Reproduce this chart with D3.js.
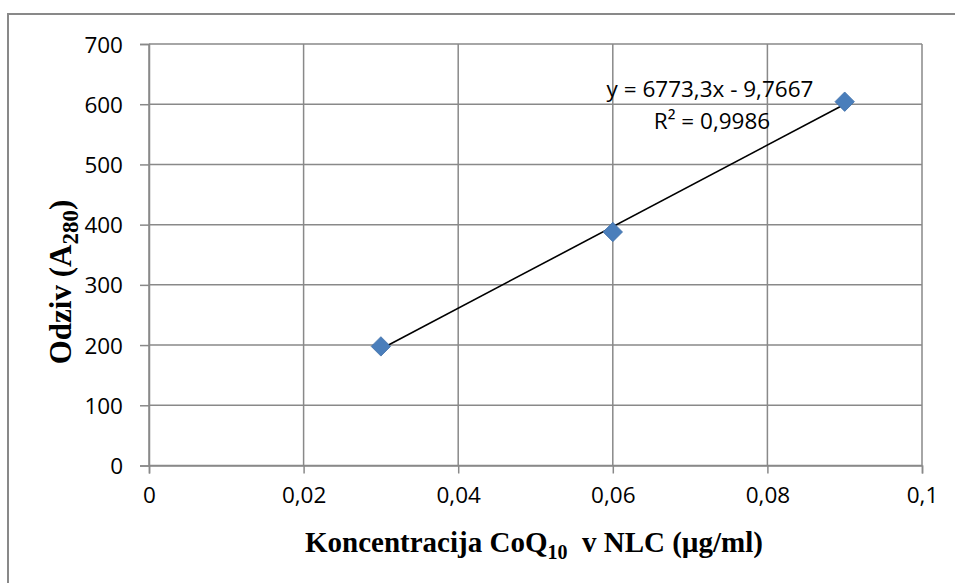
<!DOCTYPE html>
<html>
<head>
<meta charset="utf-8">
<script src="https://cdn.jsdelivr.net/npm/d3@7"></script>
<style>
  body { margin: 0; background: #fff; }
  svg { display: block; }
</style>
</head>
<body>
<div class="vis"></div>
<script>
// data
const concentrations = [0.03, 0.06, 0.09];
const responses = [197.8, 387.8, 604.2];
const xTicks = [0, 0.02, 0.04, 0.06, 0.08, 0.1];
const yTicks = [0, 100, 200, 300, 400, 500, 600, 700];
const slope = 6773.3, intercept = -9.7667;
const eqText = "y = 6773,3x - 9,7667";
const r2Text = "R² = 0,9986";

const W = 955, H = 583;
const m = { left: 149, right: W - 922, top: 44, bottom: H - 465.5 };
const w = W - m.left - m.right, h = H - m.top - m.bottom;
const gridColor = "#898989";
const fmt = d => String(d).replace(".", ",");

const svg = d3.select(".vis").append("svg").attr("width", W).attr("height", H);

// outer chart frame (runs off the right and bottom edges)
svg.append("rect")
    .attr("x", 8).attr("y", 14).attr("width", W + 10).attr("height", H + 10)
    .attr("fill", "none").attr("stroke", gridColor).attr("stroke-width", 2);

const g = svg.append("g").attr("transform", `translate(${m.left}, ${m.top})`);

const x = d3.scaleLinear().domain([0, 0.1]).range([0, w]);
const y = d3.scaleLinear().domain([0, 700]).range([h, 0]);

// grid
g.append("g").selectAll("line").data(yTicks).join("line")
    .attr("x1", 0).attr("x2", w).attr("y1", d => y(d)).attr("y2", d => y(d))
    .attr("stroke", gridColor).attr("stroke-width", 1.5);
g.append("g").selectAll("line").data(xTicks).join("line")
    .attr("x1", d => x(d)).attr("x2", d => x(d)).attr("y1", 0).attr("y2", h)
    .attr("stroke", gridColor).attr("stroke-width", 1.5);

// axes
const xAxis = g.append("g").attr("transform", `translate(0, ${h})`)
    .call(d3.axisBottom(x).tickValues(xTicks).tickFormat(fmt).tickSize(8).tickPadding(14));
const yAxis = g.append("g")
    .call(d3.axisLeft(y).tickValues(yTicks).tickFormat(fmt).tickSize(9).tickPadding(17));
[xAxis, yAxis].forEach(a => {
    a.selectAll("path, line").attr("stroke", gridColor).attr("stroke-width", 1.5);
    a.selectAll("text").attr("fill", "#000")
        .style("font-family", "'Open Sans', sans-serif").style("font-size", "22.5px");
});
yAxis.selectAll("text").attr("dy", "0.36em");

// trendline
g.append("line")
    .attr("x1", x(concentrations[0])).attr("y1", y(slope * concentrations[0] + intercept))
    .attr("x2", x(concentrations[2])).attr("y2", y(slope * concentrations[2] + intercept))
    .attr("stroke", "#000").attr("stroke-width", 1.6);

// markers
g.selectAll("path.pt").data(concentrations).join("path")
    .attr("class", "pt")
    .attr("d", d3.symbol().type(d3.symbolDiamond2).size(240))
    .attr("transform", (d, i) => `translate(${x(d)}, ${y(responses[i])})`)
    .attr("fill", "#4a7ebb").attr("stroke", "#3f6fa8").attr("stroke-width", 0.8);

// equation labels
const eq = g.append("g").style("font-family", "'Open Sans', sans-serif")
    .style("font-size", "22.5px").attr("text-anchor", "middle");
eq.append("text").attr("x", 710 - m.left).attr("y", 97 - m.top).text(eqText);
eq.append("text").attr("x", 712 - m.left).attr("y", 129 - m.top).text(r2Text);

// axis titles
const xt = svg.append("text").attr("x", 534).attr("y", 552)
    .attr("text-anchor", "middle")
    .style("font-family", "'Liberation Serif', 'Times New Roman', serif")
    .style("font-weight", "bold").style("font-size", "29px");
xt.append("tspan").text("Koncentracija CoQ");
xt.append("tspan").attr("dy", 7).style("font-size", "20px").text("10");
xt.append("tspan").attr("dy", -7).text("\u00a0 v NLC (µg/ml)");

const yt = svg.append("text").attr("transform", "translate(71, 282) rotate(-90)")
    .attr("text-anchor", "middle")
    .style("font-family", "'Liberation Serif', 'Times New Roman', serif")
    .style("font-weight", "bold").style("font-size", "31px");
yt.append("tspan").text("Odziv (A");
yt.append("tspan").attr("dy", 7).style("font-size", "23px").text("280");
yt.append("tspan").attr("dy", -7).text(")");
</script>
</body>
</html>
